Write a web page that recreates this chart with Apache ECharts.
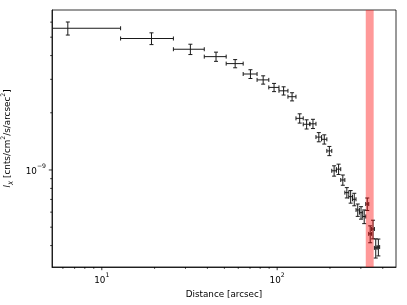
<!DOCTYPE html>
<html><head><meta charset="utf-8">
<script src="https://cdn.jsdelivr.net/npm/echarts@6/dist/echarts.min.js"></script>
<style>html,body{margin:0;padding:0;background:#fff}#c{width:407px;height:305px}</style>
</head><body><div id="c"></div>
<script>
// ---- data ----
const distance = [6.4, 19.2, 32.0, 44.8, 57.6, 70.4, 83.2, 96.0, 108.8, 121.6, 134.4, 147.2, 160.0, 172.8, 185.6, 198.4, 211.2, 224.0, 236.8, 249.6, 262.4, 275.2, 288.0, 300.8, 313.6, 326.4, 339.2, 352.0, 364.8, 377.6];
const distanceErr = [6.4, 6.4, 6.4, 6.4, 6.4, 6.4, 6.4, 6.4, 6.4, 6.4, 6.4, 6.4, 6.4, 6.4, 6.4, 6.4, 6.4, 6.4, 6.4, 6.4, 6.4, 6.4, 6.4, 6.4, 6.4, 6.4, 6.4, 6.4, 6.4, 6.4];
const intensity = [5.57e-9, 4.92e-9, 4.32e-9, 3.95e-9, 3.63e-9, 3.20e-9, 2.98e-9, 2.72e-9, 2.61e-9, 2.43e-9, 1.87e-9, 1.74e-9, 1.75e-9, 1.49e-9, 1.45e-9, 1.26e-9, 0.99e-9, 1.01e-9, 0.886e-9, 0.76e-9, 0.724e-9, 0.701e-9, 0.616e-9, 0.596e-9, 0.569e-9, 0.662e-9, 0.461e-9, 0.489e-9, 0.389e-9, 0.393e-9];
const intensityErr = [0.44e-9, 0.35e-9, 0.27e-9, 0.22e-9, 0.18e-9, 0.17e-9, 0.15e-9, 0.135e-9, 0.13e-9, 0.12e-9, 0.105e-9, 0.097e-9, 0.098e-9, 0.083e-9, 0.081e-9, 0.07e-9, 0.062e-9, 0.063e-9, 0.055e-9, 0.0475e-9, 0.055e-9, 0.053e-9, 0.046e-9, 0.045e-9, 0.047e-9, 0.05e-9, 0.047e-9, 0.055e-9, 0.045e-9, 0.04e-9];
const bandRange = [320, 355];
const xLimits = [5.2, 476];
const yLimits = [3.086e-10, 6.95e-9];
const xMajorTicks = [10, 100];
const xMinorTicks = [6, 7, 8, 9, 20, 30, 40, 50, 60, 70, 80, 90, 200, 300, 400];
const yMajorTicks = [1e-9];
const yMinorTicks = [4e-10, 5e-10, 6e-10, 7e-10, 8e-10, 9e-10, 2e-9, 3e-9, 4e-9, 5e-9, 6e-9];
const xTickLabels = {10: ['10', '1'], 100: ['10', '2']};
const yTickLabels = {'1e-9': ['10', '\u22129']};
const xTitle = 'Distance [arcsec]';
const yTitleParts = ['I', 'X', ' [cnts/cm', '2', '/s/arcsec', '2', ']'];

// ---- chart ----
const FONT = 'DejaVu Sans';
const FS = 8.8;
const SUP = 6.2;
const INK = '#1a1a1a';

const errData = distance.map((d, i) => [d, intensity[i], distanceErr[i], intensityErr[i]]);

function renderErr(params, api) {
  const x = api.value(0), y = api.value(1), xe = api.value(2), ye = api.value(3);
  const c = api.coord([x, y]);
  const xl = api.coord([Math.max(x - xe, 0.01), y]);
  const xr = api.coord([x + xe, y]);
  const yt = api.coord([x, y + ye]);
  const yb = api.coord([x, y - ye]);
  const style = {stroke: INK, lineWidth: 1, fill: null};
  const cap = 2;
  const L = (x1, y1, x2, y2) => ({type: 'line', shape: {x1, y1, x2, y2}, style});
  return {type: 'group', children: [
    L(xl[0], c[1], xr[0], c[1]),
    L(c[0], yt[1], c[0], yb[1]),
    L(c[0] - cap, yt[1], c[0] + cap, yt[1]),
    L(c[0] - cap, yb[1], c[0] + cap, yb[1]),
    L(xl[0], c[1] - cap, xl[0], c[1] + cap),
    L(xr[0], c[1] - cap, xr[0], c[1] + cap)
  ]};
}

function renderBand(params, api) {
  const a = api.coord([api.value(0), yLimits[1]]);
  const b = api.coord([api.value(1), yLimits[0]]);
  return {type: 'rect', shape: {x: a[0], y: a[1], width: b[0] - a[0], height: b[1] - a[1]},
    style: {fill: 'rgba(255,0,0,0.4)'}};
}

function renderXTick(params, api) {
  const p = api.coord([api.value(0), yLimits[0]]);
  const len = api.value(1);
  return {type: 'line', shape: {x1: p[0], y1: p[1], x2: p[0], y2: p[1] + len},
    style: {stroke: '#000', lineWidth: 0.8}};
}
function renderYTick(params, api) {
  const p = api.coord([xLimits[0], api.value(0)]);
  const len = api.value(1);
  return {type: 'line', shape: {x1: p[0], y1: p[1], x2: p[0] - len, y2: p[1]},
    style: {stroke: '#000', lineWidth: 0.8}};
}

const isPow10 = v => Math.abs(Math.log10(v) - Math.round(Math.log10(v))) < 1e-6;
const richLabel = {
  b: {fontFamily: FONT, fontSize: FS, color: '#000', lineHeight: 13, verticalAlign: 'bottom'},
  s: {fontFamily: FONT, fontSize: SUP, color: '#000', lineHeight: 13, verticalAlign: 'top'}
};

const chart = echarts.init(document.getElementById('c'), null, {renderer: 'canvas'});
chart.setOption({
  animation: false,
  backgroundColor: '#fff',
  grid: {left: 52, right: 11, top: 10, bottom: 38, containLabel: false, outerBoundsMode: 'none',
    show: true, borderColor: '#000', borderWidth: 0.8, backgroundColor: 'transparent'},
  xAxis: {
    type: 'log', logBase: 10, min: xLimits[0], max: xLimits[1],
    axisLine: {show: true, lineStyle: {color: '#000', width: 0.8}},
    axisTick: {show: false}, minorTick: {show: false},
    splitLine: {show: false}, minorSplitLine: {show: false},
    axisLabel: {
      margin: 5, showMinLabel: true, showMaxLabel: true,
      formatter: v => {
        if (!isPow10(v)) return '';
        const t = xTickLabels[Math.round(v)];
        return t ? '{b|' + t[0] + '}{s|' + t[1] + '}' : '';
      },
      rich: richLabel
    },
    name: xTitle, nameLocation: 'middle', nameGap: 20,
    nameTextStyle: {fontFamily: FONT, fontSize: FS, color: '#000'}
  },
  yAxis: {
    type: 'log', logBase: 10, min: yLimits[0], max: yLimits[1],
    axisLine: {show: true, lineStyle: {color: '#000', width: 0.8}},
    axisTick: {show: false}, minorTick: {show: false},
    splitLine: {show: false}, minorSplitLine: {show: false},
    axisLabel: {
      margin: 6,
      formatter: v => {
        if (!isPow10(v)) return '';
        const key = '1e' + Math.round(Math.log10(v));
        const t = yTickLabels[key];
        return t ? '{b|' + t[0] + '}{s|' + t[1] + '}' : '';
      },
      rich: richLabel
    },
    name: '{i|' + yTitleParts[0] + '}{sub|' + yTitleParts[1] + '}{n|' + yTitleParts[2] + '}{sup|' + yTitleParts[3] + '}{n|' + yTitleParts[4] + '}{sup|' + yTitleParts[5] + '}{n|' + yTitleParts[6] + '}',
    nameLocation: 'middle', nameGap: 33, nameRotate: 90,
    nameTextStyle: {
      fontFamily: FONT, fontSize: FS, color: '#000',
      rich: {
        i: {fontFamily: FONT, fontSize: FS, fontStyle: 'italic', color: '#000', lineHeight: 14, verticalAlign: 'middle'},
        sub: {fontFamily: FONT, fontSize: SUP, fontStyle: 'italic', color: '#000', lineHeight: 14, verticalAlign: 'bottom'},
        n: {fontFamily: FONT, fontSize: FS, color: '#000', lineHeight: 14, verticalAlign: 'middle'},
        sup: {fontFamily: FONT, fontSize: SUP, color: '#000', lineHeight: 14, verticalAlign: 'top'}
      }
    }
  },
  series: [
    {type: 'custom', name: 'errors', renderItem: renderErr, data: errData, clip: true, z: 2,
      encode: {x: 0, y: 1}},
    {type: 'custom', name: 'band', renderItem: renderBand, data: [bandRange], clip: true, z: 5,
      encode: {x: [0, 1]}},
    {type: 'custom', name: 'xMajor', renderItem: renderXTick, clip: false, z: 6,
      data: xMajorTicks.map(v => [v, 3.2]), encode: {x: 0}},
    {type: 'custom', name: 'xMinor', renderItem: renderXTick, clip: false, z: 6,
      data: xMinorTicks.map(v => [v, 1.8]), encode: {x: 0}},
    {type: 'custom', name: 'yMajor', renderItem: renderYTick, clip: false, z: 6,
      data: yMajorTicks.map(v => [v, 3.2]), encode: {y: 0}},
    {type: 'custom', name: 'yMinor', renderItem: renderYTick, clip: false, z: 6,
      data: yMinorTicks.map(v => [v, 1.8]), encode: {y: 0}}
  ]
});
</script>
</body></html>
